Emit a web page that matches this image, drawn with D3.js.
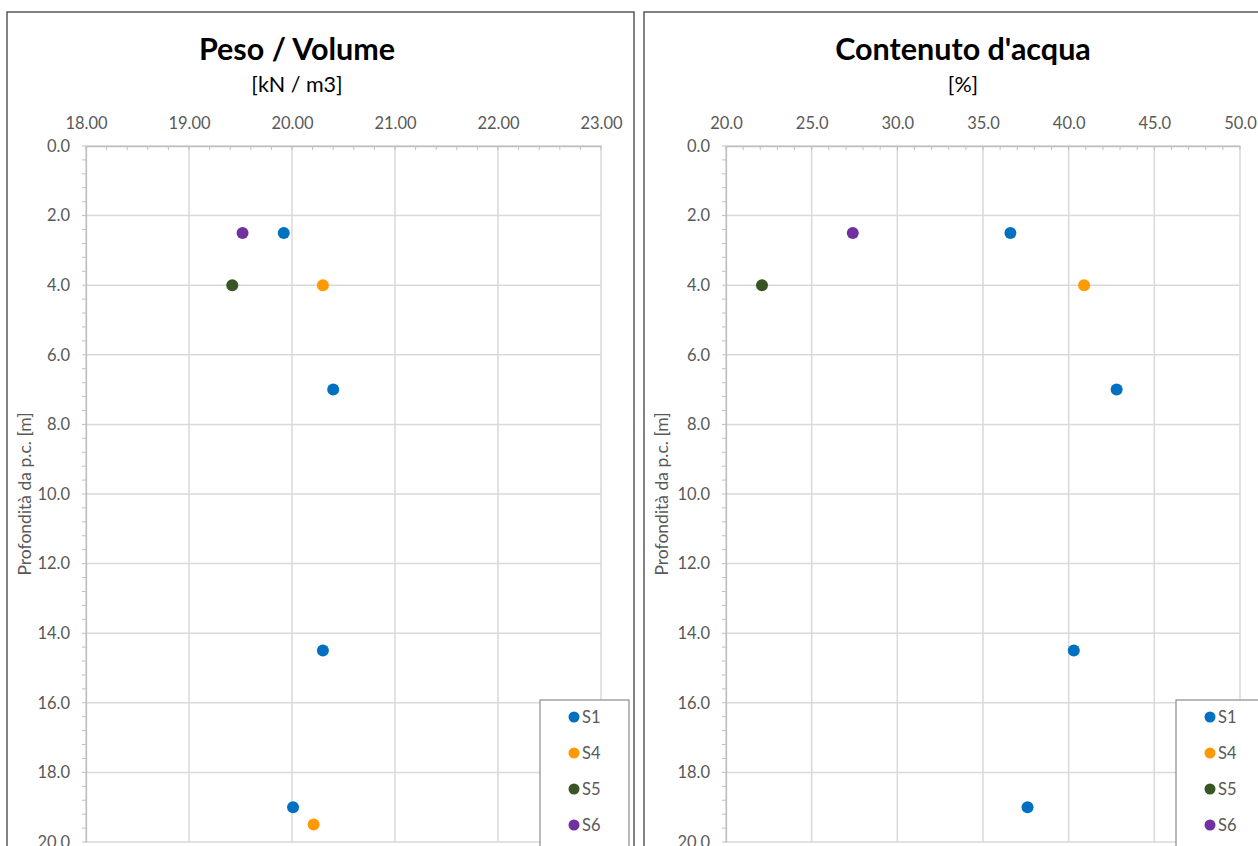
<!DOCTYPE html>
<html>
<head>
<meta charset="utf-8">
<script src="https://cdn.jsdelivr.net/npm/d3@7"></script>
<style>
  html, body { margin: 0; padding: 0; background: #fff; }
  svg { display: block; font-family: Lato, "Open Sans", sans-serif; }
</style>
</head>
<body>
<svg id="chart" width="1258" height="846"></svg>
<script>
// ---------- data ----------
const seriesNames = ["S1", "S4", "S5", "S6"];
const seriesColors = ["#0070C0", "#FF9900", "#375623", "#7030A0"];

// Peso / Volume [kN/m3] : [value, depth]
const pesoS1 = [[19.92, 2.5], [20.40, 7.0], [20.30, 14.5], [20.01, 19.0]];
const pesoS4 = [[20.30, 4.0], [20.21, 19.5]];
const pesoS5 = [[19.42, 4.0]];
const pesoS6 = [[19.52, 2.5]];

// Contenuto d'acqua [%] : [value, depth]
const acquaS1 = [[36.6, 2.5], [42.8, 7.0], [40.3, 14.5], [37.6, 19.0]];
const acquaS4 = [[40.9, 4.0]];
const acquaS5 = [[22.1, 4.0]];
const acquaS6 = [[27.4, 2.5]];

const pesoTicks = [18, 19, 20, 21, 22, 23];
const acquaTicks = [20, 25, 30, 35, 40, 45, 50];
const depthTicks = [0, 2, 4, 6, 8, 10, 12, 14, 16, 18, 20];

const yTitle = "Profondità da p.c. [m]";

const panels = [
  {
    title: "Peso / Volume", unit: "[kN / m3]",
    frame: [7, 12, 627, 900], titleX: 297,
    xr: [86, 601], domain: [18, 23], ticks: pesoTicks, fmt: ".2f", minorStep: 0.2,
    data: [pesoS1, pesoS4, pesoS5, pesoS6],
    legendX: 540, yTitleX: 31
  },
  {
    title: "Contenuto d'acqua", unit: "[%]",
    frame: [644, 12, 700, 900], titleX: 963,
    xr: [726, 1240], domain: [20, 50], ticks: acquaTicks, fmt: ".1f", minorStep: 1,
    data: [acquaS1, acquaS4, acquaS5, acquaS6],
    legendX: 1176, yTitleX: 668
  }
];

const svg = d3.select("#chart");
const yRange = [146, 842];
const gridColor = "#d9d9d9";
const textColor = "#595959";
const tickFont = 16.5;

panels.forEach(p => {
  const g = svg.append("g");
  // frame
  g.append("rect")
    .attr("x", p.frame[0]).attr("y", p.frame[1])
    .attr("width", p.frame[2]).attr("height", p.frame[3])
    .attr("fill", "#fff").attr("stroke", "#404040").attr("stroke-width", 1.3);

  // titles
  g.append("text").attr("x", p.titleX).attr("y", 60)
    .attr("text-anchor", "middle").attr("font-size", 30.5).attr("font-weight", "bold")
    .attr("fill", "#000").text(p.title);
  g.append("text").attr("x", p.titleX).attr("y", 92)
    .attr("text-anchor", "middle").attr("font-size", 21.5)
    .attr("fill", "#000").text(p.unit);

  const x = d3.scaleLinear().domain(p.domain).range(p.xr);
  const y = d3.scaleLinear().domain([0, 20]).range(yRange);

  // gridlines
  g.append("g").selectAll("line").data(p.ticks).join("line")
    .attr("x1", d => x(d)).attr("x2", d => x(d))
    .attr("y1", yRange[0]).attr("y2", yRange[1])
    .attr("stroke", gridColor).attr("stroke-width", 1.5);
  g.append("g").selectAll("line").data(depthTicks).join("line")
    .attr("x1", p.xr[0]).attr("x2", p.xr[1])
    .attr("y1", d => y(d)).attr("y2", d => y(d))
    .attr("stroke", gridColor).attr("stroke-width", 1.5);

  // minor ticks x (top, inward)
  const xMinor = d3.range(p.domain[0], p.domain[1] + 1e-9, p.minorStep);
  g.append("g").selectAll("line").data(xMinor).join("line")
    .attr("x1", d => x(d)).attr("x2", d => x(d))
    .attr("y1", yRange[0]).attr("y2", yRange[0] + 4)
    .attr("stroke", "#bfbfbf").attr("stroke-width", 1);
  // minor ticks y (left, outward)
  const yMinor = d3.range(0, 20 + 1e-9, 0.4);
  g.append("g").selectAll("line").data(yMinor).join("line")
    .attr("x1", p.xr[0] - 4).attr("x2", p.xr[0])
    .attr("y1", d => y(d)).attr("y2", d => y(d))
    .attr("stroke", "#bfbfbf").attr("stroke-width", 1);

  // axes
  const xAxis = d3.axisTop(x).tickValues(p.ticks).tickFormat(d3.format(p.fmt)).tickSize(0).tickPadding(17);
  const gx = g.append("g").attr("transform", `translate(0,${yRange[0]})`).call(xAxis);
  gx.select(".domain").attr("stroke", "#bfbfbf").attr("stroke-width", 1.3);
  gx.selectAll("text").attr("font-size", tickFont).attr("fill", textColor).attr("font-family", "Lato, sans-serif");

  const yAxis = d3.axisLeft(y).tickValues(depthTicks).tickFormat(d3.format(".1f")).tickSize(0).tickPadding(16);
  const gy = g.append("g").attr("transform", `translate(${p.xr[0]},0)`).call(yAxis);
  gy.select(".domain").attr("stroke", "#bfbfbf").attr("stroke-width", 1.3);
  gy.selectAll("text").attr("font-size", tickFont).attr("fill", textColor).attr("font-family", "Lato, sans-serif");

  // y title
  g.append("text")
    .attr("transform", `translate(${p.yTitleX},${(yRange[0] + yRange[1]) / 2}) rotate(-90)`)
    .attr("text-anchor", "middle").attr("font-size", 17.5).attr("fill", textColor)
    .text(yTitle);

  // points
  p.data.forEach((arr, i) => {
    g.append("g").selectAll("circle").data(arr).join("circle")
      .attr("cx", d => x(d[0])).attr("cy", d => y(d[1]))
      .attr("r", 6).attr("fill", seriesColors[i]);
  });

  // legend
  const lg = g.append("g");
  lg.append("rect").attr("x", p.legendX).attr("y", 700)
    .attr("width", 89).attr("height", 160)
    .attr("fill", "#fff").attr("stroke", "#8c8c8c").attr("stroke-width", 1.2);
  seriesNames.forEach((name, i) => {
    const cy = 717 + i * 36;
    lg.append("circle").attr("cx", p.legendX + 34).attr("cy", cy).attr("r", 5.5).attr("fill", seriesColors[i]);
    lg.append("text").attr("x", p.legendX + 42).attr("y", cy + 5.5)
      .attr("font-size", tickFont).attr("fill", textColor).text(name);
  });
});
</script>
</body>
</html>
